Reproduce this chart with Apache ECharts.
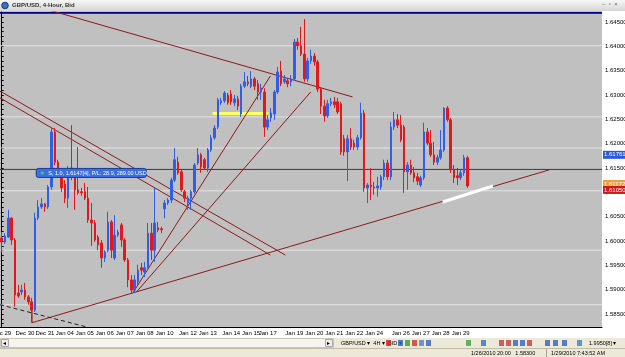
<!DOCTYPE html>
<html><head><meta charset="utf-8">
<script src="https://cdn.jsdelivr.net/npm/echarts@6/dist/echarts.min.js"></script>
<style>html,body{margin:0;padding:0;background:#fff;overflow:hidden}#c{width:625px;height:357px}</style>
</head><body><div id="c"></div>
<script>
// ---- data ----
const candleOpen=[1.6006,1.5998,1.6008,1.6047,1.6002,1.5893,1.5895,1.5899,1.5885,1.5875,
1.5858,1.6047,1.6070,1.6076,1.6070,1.6111,1.6224,1.6162,1.6142,1.6117,
1.6088,1.6150,1.6132,1.6105,1.6101,1.6101,1.6088,1.6043,1.6037,1.6008,
1.5996,1.5965,1.5981,1.6039,1.5965,1.6012,1.6033,1.6002,1.5961,1.5920,
1.5899,1.5916,1.5945,1.5936,1.5945,1.6016,1.5981,1.6027,1.6025,1.6066,
1.6078,1.6084,1.6125,1.6162,1.6142,1.6101,1.6078,1.6088,1.6101,1.6160,
1.6177,1.6167,1.6150,1.6187,1.6212,1.6234,1.6284,1.6288,1.6300,1.6302,
1.6284,1.6292,1.6261,1.6318,1.6327,1.6318,1.6333,1.6323,1.6306,1.6306,
1.6234,1.6253,1.6261,1.6306,1.6349,1.6327,1.6329,1.6327,1.6333,1.6409,
1.6401,1.6384,1.6333,1.6370,1.6380,1.6368,1.6312,1.6277,1.6257,1.6282,
1.6286,1.6286,1.6282,1.6210,1.6183,1.6210,1.6201,1.6193,1.6212,1.6263,
1.6109,1.6115,1.6111,1.6109,1.6111,1.6132,1.6160,1.6132,1.6234,1.6249,
1.6238,1.6234,1.6142,1.6156,1.6140,1.6132,1.6115,1.6130,1.6224,1.6201,
1.6177,1.6162,1.6171,1.6187,1.6273,1.6249,1.6146,1.6134,1.6130,1.6140,
1.6171];
const candleClose=[1.5998,1.6010,1.6047,1.6002,1.5889,1.5887,1.5899,1.5885,1.5875,1.5858,
1.6047,1.6070,1.6076,1.6070,1.6111,1.6224,1.6162,1.6146,1.6109,1.6088,
1.6132,1.6132,1.6105,1.6099,1.6099,1.6088,1.6043,1.6037,1.6002,1.5992,
1.5965,1.5977,1.6039,1.5981,1.6012,1.6018,1.6002,1.5961,1.5920,1.5899,
1.5920,1.5940,1.5940,1.5945,1.6016,1.5981,1.6037,1.6023,1.6023,1.6078,
1.6084,1.6125,1.6167,1.6140,1.6105,1.6088,1.6088,1.6101,1.6156,1.6177,
1.6152,1.6150,1.6187,1.6212,1.6232,1.6290,1.6288,1.6304,1.6284,1.6286,
1.6292,1.6277,1.6318,1.6327,1.6323,1.6333,1.6318,1.6306,1.6314,1.6234,
1.6249,1.6263,1.6306,1.6347,1.6323,1.6333,1.6323,1.6333,1.6409,1.6401,
1.6384,1.6333,1.6370,1.6380,1.6368,1.6312,1.6277,1.6257,1.6282,1.6286,
1.6280,1.6265,1.6183,1.6183,1.6210,1.6193,1.6193,1.6212,1.6263,1.6109,
1.6115,1.6111,1.6109,1.6113,1.6132,1.6160,1.6132,1.6234,1.6249,1.6238,
1.6208,1.6142,1.6156,1.6140,1.6130,1.6123,1.6130,1.6224,1.6201,1.6177,
1.6162,1.6171,1.6187,1.6273,1.6249,1.6146,1.6130,1.6130,1.6140,1.6171,
1.6113];
const candleLow=[1.5977,1.5994,1.6006,1.5992,1.5865,1.5883,1.5889,1.5879,1.5869,1.5832,
1.5854,1.6043,1.6066,1.6060,1.6066,1.6105,1.6156,1.6136,1.6101,1.6078,
1.6068,1.6125,1.6064,1.6095,1.6093,1.6084,1.6037,1.5990,1.5998,1.5981,
1.5945,1.5957,1.5977,1.5965,1.5961,1.6008,1.5988,1.5957,1.5905,1.5893,
1.5893,1.5910,1.5930,1.5926,1.5940,1.5961,1.5957,1.6018,1.6016,1.6047,
1.6074,1.6078,1.6121,1.6136,1.6101,1.6080,1.6064,1.6064,1.6097,1.6156,
1.6140,1.6146,1.6142,1.6183,1.6208,1.6230,1.6280,1.6284,1.6280,1.6280,
1.6277,1.6269,1.6255,1.6314,1.6318,1.6314,1.6310,1.6290,1.6290,1.6214,
1.6228,1.6245,1.6249,1.6302,1.6318,1.6323,1.6316,1.6318,1.6329,1.6393,
1.6380,1.6327,1.6327,1.6364,1.6360,1.6306,1.6261,1.6245,1.6253,1.6277,
1.6273,1.6261,1.6177,1.6175,1.6123,1.6187,1.6187,1.6187,1.6208,1.6101,
1.6078,1.6084,1.6095,1.6091,1.6105,1.6125,1.6125,1.6125,1.6228,1.6232,
1.6203,1.6099,1.6105,1.6136,1.6121,1.6115,1.6111,1.6125,1.6197,1.6173,
1.6156,1.6156,1.6167,1.6183,1.6245,1.6140,1.6119,1.6115,1.6125,1.6134,
1.6109];
const candleHigh=[1.6018,1.6016,1.6064,1.6049,1.6006,1.5910,1.5910,1.5914,1.5889,1.5883,
1.6058,1.6084,1.6088,1.6078,1.6115,1.6232,1.6232,1.6167,1.6150,1.6125,
1.6154,1.6238,1.6136,1.6193,1.6109,1.6119,1.6111,1.6078,1.6043,1.6012,
1.6002,1.5981,1.6060,1.6043,1.6053,1.6023,1.6037,1.6006,1.5965,1.5930,
1.5930,1.5951,1.5955,1.5957,1.6037,1.6037,1.6109,1.6039,1.6029,1.6084,
1.6088,1.6130,1.6191,1.6173,1.6146,1.6105,1.6093,1.6105,1.6160,1.6191,
1.6181,1.6171,1.6191,1.6218,1.6238,1.6294,1.6294,1.6308,1.6304,1.6310,
1.6300,1.6298,1.6323,1.6347,1.6339,1.6349,1.6337,1.6331,1.6323,1.6314,
1.6259,1.6273,1.6310,1.6358,1.6370,1.6341,1.6335,1.6341,1.6415,1.6417,
1.6440,1.6456,1.6376,1.6393,1.6386,1.6372,1.6316,1.6290,1.6290,1.6294,
1.6296,1.6294,1.6286,1.6218,1.6218,1.6232,1.6208,1.6218,1.6284,1.6269,
1.6119,1.6150,1.6121,1.6132,1.6136,1.6167,1.6167,1.6245,1.6265,1.6261,
1.6259,1.6238,1.6162,1.6167,1.6152,1.6140,1.6134,1.6243,1.6232,1.6228,
1.6203,1.6177,1.6228,1.6275,1.6277,1.6253,1.6156,1.6150,1.6146,1.6177,
1.6175];
const totalSlots = 181; // bars + empty right margin
const tickLabels=['Dec 29','Dec 30','Dec 31','Jan 04','Jan 05','Jan 06','Jan 07','Jan 08','Jan 10','Jan 12','Jan 13','Jan 14','Jan 15','Jan 17','Jan 19','Jan 20','Jan 21','Jan 22','Jan 24','Jan 26','Jan 27','Jan 28','Jan 29'];
const tickBar=[0,7,13,19,25,31,37,43,49,56,62,69,75,80,88,94,100,106,112,120,126,132,138];
const priceLabels=[1.585,1.590,1.595,1.600,1.605,1.610,1.615,1.620,1.625,1.630,1.635,1.640,1.645];
const levelLines=[1.6401,1.6255,1.6191,1.6103,1.5981,1.5869];
const tradePrice=1.6147;
const topLine=1.6469;
const trendLines=[
 [[13.96,1.6475],[105.5,1.6296]],
 [[-0.5,1.6294],[80.8,1.5971]],
 [[-0.5,1.6308],[85.3,1.5971]],
 [[39.6,1.5895],[80.8,1.6339]],
 [[40.5,1.5895],[92.9,1.6306]],
 [[9.14,1.5832],[164.6,1.6146]],
 [[9.14,1.5858],[9.14,1.5832]]
];
const dashedLine=[[-0.5,1.5869],[25.7,1.5823]];
const whiteSegment=[[132.6,1.6080],[147.7,1.6113]];
const yellowSegment=[[63.4,1.6262],[80.2,1.6262]];
const priceTags=[[1.6177,'1.61761','#2a5bd7','#fff'],[1.6117,'1.61172','#f0a040','#fff'],[1.6105,'1.61050','#d01818','#fff']];
const tradeText='S, 1.0, 1.6147[4], P/L: 28.9, 289.00 USD';

// ---- build ----
const cats=[];for(let i=0;i<totalSlots;i++)cats.push(String(i));
const labelAt={};tickBar.forEach((b,k)=>labelAt[b]=tickLabels[k]);
const ohlc=candleOpen.map((o,i)=>[o,candleClose[i],candleLow[i],candleHigh[i]]);
const yMax=1.64705, yMin=1.58232;
const minorTicks=[];for(let v=1583;v<=1647;v++)minorTicks.push(v/1000);

const lineSeries=[];
levelLines.forEach(v=>lineSeries.push({type:'line',xAxisIndex:1,yAxisIndex:0,data:[[-0.5,v],[180.5,v]],symbol:'none',lineStyle:{color:'#e4e4e4',width:1},silent:true,z:1}));
lineSeries.push({type:'line',xAxisIndex:1,data:[[-0.5,topLine],[180.5,topLine]],symbol:'none',lineStyle:{color:'#000080',width:2},z:1});
lineSeries.push({type:'line',xAxisIndex:1,data:[[-0.5,tradePrice],[180.5,tradePrice]],symbol:'none',lineStyle:{color:'#3a3a3a',width:1},z:1});
trendLines.forEach(l=>lineSeries.push({type:'line',xAxisIndex:1,data:l,symbol:'none',lineStyle:{color:'#8b1a1a',width:1},z:3}));
lineSeries.push({type:'line',xAxisIndex:1,data:dashedLine,symbol:'none',lineStyle:{color:'#202020',width:1,type:[4,3]},z:3});
lineSeries.push({type:'line',xAxisIndex:1,data:whiteSegment,symbol:'none',lineStyle:{color:'#ffffff',width:3},z:4});
lineSeries.push({type:'line',xAxisIndex:1,data:yellowSegment,symbol:'none',lineStyle:{color:'#ffff66',width:3},z:0});

const chart=echarts.init(document.getElementById('c'),null,{renderer:'canvas'});
const F='Liberation Sans, Arial, sans-serif';
chart.setOption({
 animation:false,
 grid:{left:0,right:23,top:12,bottom:30,show:true,backgroundColor:'#c0c0c0',borderWidth:0,containLabel:false,outerBoundsMode:'none'},
 xAxis:[{type:'category',data:cats,boundaryGap:true,
   axisLine:{lineStyle:{color:'#000',width:1}},
   axisTick:{alignWithLabel:true,length:3,interval:(i)=>labelAt[i]!==undefined,lineStyle:{color:'#000'}},
   axisLabel:{interval:0,fontSize:6,color:'#000',fontFamily:F,margin:3,formatter:(v,i)=>labelAt[i]||''},
   splitLine:{show:false}},
  {type:'value',min:-0.5,max:180.5,show:false}],
 yAxis:{type:'value',position:'right',min:yMin,max:yMax,scale:true,
   axisLine:{show:true,lineStyle:{color:'#000'}},
   axisTick:{show:true,length:2,customValues:minorTicks,lineStyle:{color:'#000'}},
   axisLabel:{fontSize:6,color:'#000',fontFamily:F,margin:3,customValues:priceLabels,formatter:v=>v.toFixed(5)},
   splitLine:{show:false}},
 series:[{type:'candlestick',data:ohlc,barWidth:2,
   itemStyle:{color:'#2f5fe8',color0:'#e01a1a',borderColor:'#2f5fe8',borderColor0:'#e01a1a',borderWidth:1},z:5}].concat(lineSeries)
});

// overlays positioned through the chart's own scales
const g=[];
const toPx=(x,v)=>chart.convertToPixel({xAxisIndex:1,yAxisIndex:0},[x,v]);
priceTags.forEach(t=>{const p=toPx(180.5,t[0]);
 g.push({type:'rect',shape:{x:p[0]+1,y:p[1]-4,width:24,height:8},style:{fill:t[2]},z:50});
 g.push({type:'text',x:p[0]+2,y:p[1],style:{text:t[1],fill:t[3],font:'6px '+F,verticalAlign:'middle'},z:51});});
const tp=toPx(10.4,tradePrice);
g.push({type:'rect',shape:{x:tp[0],y:tp[1]-1,width:110,height:9,r:2},style:{fill:'#3b6fe0',stroke:'#1b3a9a',lineWidth:1},z:50});
g.push({type:'circle',shape:{cx:tp[0]+6,cy:tp[1]+3.5,r:1.6},style:{fill:'#40d040'},z:51});
g.push({type:'text',x:tp[0]+12,y:tp[1]+3.6,style:{text:tradeText,fill:'#fff',font:'5.5px '+F,verticalAlign:'middle'},z:51});
// window chrome
g.push({type:'rect',shape:{x:0,y:0,width:625,height:11},style:{fill:new echarts.graphic.LinearGradient(0,0,0,1,[{offset:0,color:'#f6f6f6'},{offset:1,color:'#d6d6d6'}])},z:40});
g.push({type:'circle',shape:{cx:5,cy:5.5,r:3.3},style:{fill:'#3a70c0',stroke:'#1d3d80'},z:41});
g.push({type:'text',x:12,y:5.7,style:{text:'GBP/USD, 4-Hour, Bid',fill:'#333',font:'bold 6px '+F,verticalAlign:'middle'},z:41});
g.push({type:'text',x:602,y:4,style:{text:'–  ▫  ×',fill:'#666',font:'6px '+F,verticalAlign:'middle'},z:41});
g.push({type:'rect',shape:{x:0,y:338,width:625,height:19},style:{fill:'#ece9d8'},z:40});
g.push({type:'rect',shape:{x:0.5,y:338.5,width:333,height:9},style:{fill:'#f5f4ee',stroke:'#c9c6b8'},z:41});
g.push({type:'rect',shape:{x:1.5,y:339.5,width:7,height:7},style:{fill:'#eeece4',stroke:'#aaa'},z:42});
g.push({type:'text',x:3,y:343,style:{text:'◂',fill:'#000',font:'6px '+F,verticalAlign:'middle'},z:43});
g.push({type:'rect',shape:{x:325.5,y:339.5,width:7,height:7},style:{fill:'#eeece4',stroke:'#aaa'},z:42});
g.push({type:'text',x:327,y:343,style:{text:'▸',fill:'#000',font:'6px '+F,verticalAlign:'middle'},z:43});
g.push({type:'text',x:341,y:343,style:{text:'GBP/USD ▾  4H ▾  BID ▾',fill:'#000',font:'5.5px '+F,verticalAlign:'middle'},z:42});
const icons=[[386,'#d02020'],[398,'#3060c0'],[405,'#30a030'],[412,'#d03030'],[419,'#5080d0'],[426,'#3060c0'],[466,'#40a040'],[481,'#3070c0'],[499,'#c04040'],[506,'#c04040'],[513,'#3060c0'],[520,'#3060c0'],[527,'#c04040'],[545,'#3060c0'],[553,'#3060c0'],[562,'#3060c0'],[577,'#4080c0']];
icons.forEach(c=>g.push({type:'rect',shape:{x:c[0],y:340,width:5,height:6},style:{fill:c[1],opacity:0.8},z:42}));
g.push({type:'text',x:589,y:343,style:{text:'1.9950[8] ▾',fill:'#000',font:'5.5px '+F,verticalAlign:'middle'},z:42});
g.push({type:'line',shape:{x1:0,y1:348.5,x2:625,y2:348.5},style:{stroke:'#c0bcaa'},z:42});
g.push({type:'text',x:471,y:353,style:{text:'1/26/2010 20:00   1.58300',fill:'#000',font:'5.5px '+F,verticalAlign:'middle'},z:42});
g.push({type:'line',shape:{x1:546.5,y1:349,x2:546.5,y2:357},style:{stroke:'#a8a490'},z:42});
g.push({type:'text',x:551,y:353,style:{text:'1/29/2010 7:43:52 AM',fill:'#000',font:'5.5px '+F,verticalAlign:'middle'},z:42});
chart.setOption({graphic:g});
</script></body></html>
